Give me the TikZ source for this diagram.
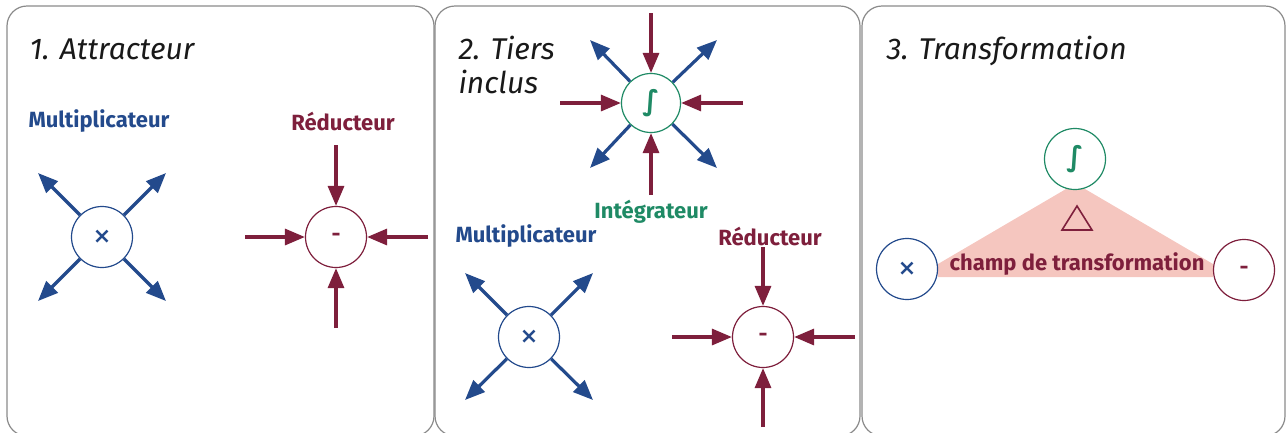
\documentclass[tikz,border=0pt]{standalone}
\usepackage{fontspec}
\setmainfont{Fira Sans}
\newfontfamily\symfont{DejaVu Sans}
\usetikzlibrary{arrows.meta}
\definecolor{mblue}{HTML}{234A8C}
\definecolor{rred}{HTML}{7E1F3C}
\definecolor{igreen}{HTML}{1F8A65}
\definecolor{champ}{HTML}{F5C6BF}
\definecolor{frame}{HTML}{8A8A8A}
\tikzset{
  panel/.style={draw=frame, line width=1.2pt, rounded corners=20pt},
  title/.style={anchor=base west, font=\fontsize{30}{34}\selectfont\itshape, text=black!90, align=left},
  lbl/.style={font=\fontsize{22}{26}\selectfont\bfseries},
  op/.style={circle, draw, fill=white, minimum size=61pt, inner sep=0pt, line width=1.2pt,
             font=\fontsize{22}{24}\selectfont\bfseries},
  barrow/.style={draw=mblue, line width=3.2pt, -{Triangle[length=20pt,width=16pt]}},
  rarrow/.style={draw=rred, line width=3.2pt, -{Triangle[length=20pt,width=16pt]}},
}
\newcommand{\mulsign}{{\symfont\bfseries ×}}
\newcommand{\integsign}{{\symfont\bfseries\fontsize{28}{30}\selectfont ∫}}
\begin{document}
\begin{tikzpicture}[x=1pt,y=-1pt]
\useasboundingbox (0,0) rectangle (1287,432);
% frames of the three panels
\draw[panel] (7,6) rectangle (434,436);
\draw[panel] (435,6) rectangle (860,436);
\draw[panel] (862,6) rectangle (1285,436);

% ---- 1. Attracteur
\node[title] (t1) at (26,59) {1. Attracteur};
\node[lbl, text=mblue] (l1m) at (99,121) {Multiplicateur};
\node[lbl, text=rred] (l1r) at (343,121) {Réducteur};

\node[op, draw=mblue, text=mblue] (m1) at (102,237) {\mulsign};
\coordinate (m1a) at (38,173);
\coordinate (m1b) at (166,173);
\coordinate (m1c) at (38,301);
\coordinate (m1d) at (166,301);
\foreach \c in {m1a,m1b,m1c,m1d} \draw[barrow] (m1) -- (\c);

\node[op, draw=rred, text=rred] (r1) at (336,237) {-};
\coordinate (r1a) at (336,145);
\coordinate (r1b) at (245,237);
\coordinate (r1c) at (428,237);
\coordinate (r1d) at (336,328);
\foreach \c in {r1a,r1b,r1c,r1d} \draw[rarrow] (\c) -- (r1);

% ---- 2. Tiers inclus
\node[title] (t2) at (455,59) {2. Tiers};
\node[title] (t2b) at (455,93) {inclus};

\node[op, draw=igreen, text=igreen, minimum size=59pt] (i2) at (651,103) {\integsign};
\coordinate (i2a) at (651,13);
\coordinate (i2b) at (560,103);
\coordinate (i2c) at (743,103);
\coordinate (i2d) at (651,195);
\foreach \c in {i2a,i2b,i2c,i2d} \draw[rarrow] (\c) -- (i2);
\coordinate (i2e) at (590,40);
\coordinate (i2f) at (717,40);
\coordinate (i2g) at (590,168);
\coordinate (i2h) at (717,168);
\foreach \c in {i2e,i2f,i2g,i2h} \draw[barrow] (i2) -- (\c);
\node[lbl, text=igreen] (l2i) at (651,212) {Intégrateur};

\node[lbl, text=mblue] (l2m) at (526,236) {Multiplicateur};
\node[lbl, text=rred] (l2r) at (770,236) {Réducteur};

\node[op, draw=mblue, text=mblue] (m2) at (529,337) {\mulsign};
\coordinate (m2a) at (465,273);
\coordinate (m2b) at (593,273);
\coordinate (m2c) at (465,400);
\coordinate (m2d) at (593,400);
\foreach \c in {m2a,m2b,m2c,m2d} \draw[barrow] (m2) -- (\c);

\node[op, draw=rred, text=rred] (r2) at (763,337) {-};
\coordinate (r2a) at (763,247);
\coordinate (r2b) at (672,337);
\coordinate (r2c) at (855,337);
\coordinate (r2d) at (763,427);
\foreach \c in {r2a,r2b,r2c,r2d} \draw[rarrow] (\c) -- (r2);

% ---- 3. Transformation
\node[title] (t3) at (883,59) {3. Transformation};
\fill[champ] (1066,189) -- (1085,189) -- (1213,264) -- (1213,277)
  -- (938,277) -- (938,264) -- cycle;
\node[op, draw=igreen, text=igreen] (i3) at (1075,159) {\integsign};
\node[op, draw=mblue, text=mblue] (m3) at (907,269) {\mulsign};
\node[op, draw=rred, text=rred] (r3) at (1244,270) {-};
\draw[rred, line width=1.6pt, line join=miter] (1077,206) -- (1092,230) -- (1062,230) -- cycle;
\node[lbl, text=rred] (l3) at (1077,264) {champ de transformation};
\end{tikzpicture}
\end{document}
